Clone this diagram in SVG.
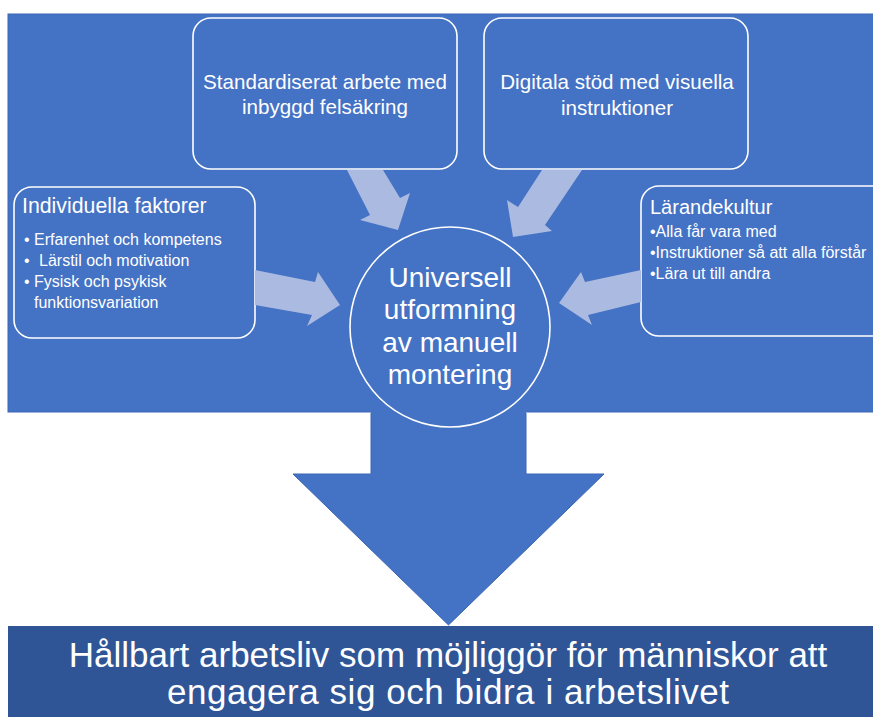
<svg xmlns="http://www.w3.org/2000/svg" width="873" height="717" viewBox="0 0 873 717">
  <style>
    .box { fill: none; stroke: #ffffff; stroke-width: 1.6; }
    .txt { fill: #ffffff; font-family: "Liberation Sans", Arial, sans-serif; }
    .hd { font-size: 20.6px; }
    .bl { font-size: 16px; }
    .ctr { text-anchor: middle; }
    .flow { fill: #ABBAE0; stroke: none; }
  </style>
  <rect width="873" height="717" fill="#ffffff"/>
  <g id="background">
    <rect x="8" y="14" width="870" height="398" fill="#4472C4" stroke="#3A66B5" stroke-width="1"/>
  </g>
  <g id="down-arrow">
    <polygon points="371,405 526,405 526,474 604,474 448.5,625 293,474 371,474" fill="#4472C4"/>
    <polyline points="371,413 371,474 293,474 448.5,625 604,474 526,474 526,413" fill="none" stroke="#3A66B5" stroke-width="1"/>
  </g>
  <g id="outcome">
    <rect x="8" y="626" width="870" height="95" fill="#2F5597"/>
    <text class="txt ctr" x="448" y="667" font-size="35">Hållbart arbetsliv som möjliggör för människor att</text>
    <text class="txt ctr" x="448" y="704" font-size="35" textLength="562" lengthAdjust="spacing">engagera sig och bidra i arbetslivet</text>
  </g>
  <g id="standardiserat">
    <rect class="box" x="193" y="18" width="264" height="151" rx="18"/>
    <text class="txt hd ctr" x="325" y="89">Standardiserat arbete med</text>
    <text class="txt hd ctr" x="325" y="114">inbyggd felsäkring</text>
  </g>
  <g id="digitala">
    <rect class="box" x="484" y="18" width="264" height="151" rx="18"/>
    <text class="txt hd ctr" x="617" y="89">Digitala stöd med visuella</text>
    <text class="txt hd ctr" x="617" y="115">instruktioner</text>
  </g>
  <g id="individuella">
    <rect class="box" x="14" y="187" width="241" height="151" rx="18"/>
    <text class="txt" x="22" y="213" font-size="21.3">Individuella faktorer</text>
    <text class="txt bl" x="24" y="245">•</text>
    <text class="txt bl" x="34" y="245">Erfarenhet och kompetens</text>
    <text class="txt bl" x="24" y="266">•</text>
    <text class="txt bl" x="39" y="266">Lärstil och motivation</text>
    <text class="txt bl" x="24" y="287">•</text>
    <text class="txt bl" x="34" y="287">Fysisk och psykisk</text>
    <text class="txt bl" x="34" y="308">funktionsvariation</text>
  </g>
  <g id="larandekultur">
    <rect class="box" x="641" y="186" width="260" height="150" rx="18"/>
    <text class="txt" x="650" y="214" font-size="20">Lärandekultur</text>
    <text class="txt bl" x="650" y="237">•Alla får vara med</text>
    <text class="txt bl" x="650" y="258">•Instruktioner så att alla förstår</text>
    <text class="txt bl" x="650" y="279">•Lära ut till andra</text>
  </g>
  <g id="connectors">
    <polygon class="flow" points="255,270 315,282 318,272 340,305 307,326 312,315 255,305"/>
    <polygon class="flow" points="347,170 383,170 400,198 410,193 398,230 360,220 370,215"/>
    <polygon class="flow" points="542,170 582,170 545,225 552,231 513,237 507,200 518,207"/>
    <polygon class="flow" points="641,270 585,282 581,272 559,303 592,325 588,315 641,302"/>
  </g>
  <g id="universell">
    <circle cx="450" cy="327" r="100" fill="#4472C4" stroke="#ffffff" stroke-width="1.6"/>
    <text class="txt ctr" x="450" y="287" font-size="28">Universell</text>
    <text class="txt ctr" x="450" y="319" font-size="28">utformning</text>
    <text class="txt ctr" x="450" y="352" font-size="28">av manuell</text>
    <text class="txt ctr" x="450" y="384" font-size="28">montering</text>
  </g>
</svg>
